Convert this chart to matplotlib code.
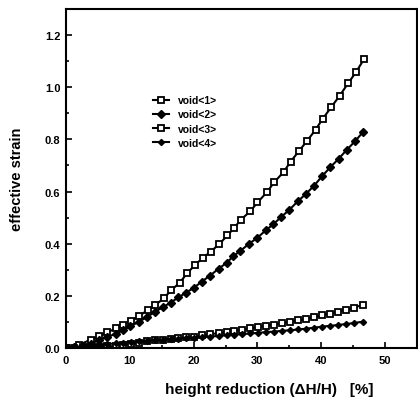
import matplotlib
matplotlib.use("Agg")
import matplotlib.pyplot as plt
from matplotlib.ticker import MultipleLocator

plt.rcParams['font.family'] = ['Liberation Sans', 'DejaVu Sans']
plt.rcParams['font.weight'] = 'bold'

# void<1>
x1 = [0, 2.0, 3.9, 5.2, 6.5, 7.8, 9.0, 10.2, 11.5, 12.8, 14.0, 15.3, 16.5, 17.8, 19.0,
      20.2, 21.4, 22.7, 24.0, 25.3, 26.4, 27.4, 28.9, 30.0, 31.5, 32.6, 34.1, 35.2,
      36.5, 37.8, 39.1, 40.2, 41.6, 42.9, 44.2, 45.5, 46.7]
y1 = [0, 0.012, 0.032, 0.046, 0.060, 0.075, 0.090, 0.105, 0.124, 0.145, 0.165, 0.190,
      0.222, 0.250, 0.287, 0.318, 0.345, 0.370, 0.398, 0.432, 0.462, 0.492, 0.525,
      0.558, 0.598, 0.635, 0.675, 0.715, 0.755, 0.795, 0.837, 0.878, 0.925, 0.968,
      1.015, 1.060, 1.108]

# void<2>
x2 = [0, 1.3, 2.6, 3.9, 5.2, 6.5, 7.8, 9.0, 10.1, 11.4, 12.7, 13.9, 15.2, 16.4, 17.6,
      18.8, 20.1, 21.3, 22.6, 23.9, 25.2, 26.2, 27.3, 28.7, 29.9, 31.3, 32.5, 33.7,
      35.0, 36.3, 37.6, 38.9, 40.1, 41.4, 42.7, 44.0, 45.3, 46.6]
y2 = [0, 0.003, 0.008, 0.017, 0.030, 0.042, 0.055, 0.068, 0.084, 0.100, 0.119, 0.138,
      0.157, 0.174, 0.194, 0.212, 0.232, 0.255, 0.278, 0.304, 0.327, 0.352, 0.372,
      0.400, 0.421, 0.451, 0.475, 0.502, 0.530, 0.562, 0.591, 0.623, 0.658, 0.693,
      0.725, 0.760, 0.793, 0.830]

# void<3> and void<4>
x34 = [0, 1.3, 2.6, 3.9, 5.2, 6.5, 7.8, 9.0, 10.2, 11.5, 12.7, 13.9, 15.2, 16.4, 17.6,
       18.8, 20.1, 21.3, 22.6, 23.9, 25.2, 26.4, 27.6, 28.9, 30.1, 31.4, 32.6, 33.9,
       35.1, 36.4, 37.6, 38.9, 40.1, 41.4, 42.6, 43.9, 45.2, 46.5]
y3 = [0, 0.001, 0.002, 0.003, 0.004, 0.006, 0.008, 0.011, 0.015, 0.020, 0.025, 0.029,
      0.032, 0.035, 0.037, 0.041, 0.044, 0.048, 0.053, 0.057, 0.061, 0.065, 0.070,
      0.075, 0.080, 0.085, 0.090, 0.096, 0.100, 0.106, 0.112, 0.118, 0.126, 0.132,
      0.139, 0.146, 0.155, 0.166]
y4 = [0, 0.003, 0.006, 0.009, 0.012, 0.015, 0.018, 0.021, 0.023, 0.025, 0.028, 0.030,
      0.032, 0.034, 0.036, 0.038, 0.040, 0.042, 0.044, 0.046, 0.049, 0.051, 0.053,
      0.056, 0.058, 0.061, 0.063, 0.066, 0.068, 0.071, 0.074, 0.078, 0.082, 0.085,
      0.088, 0.092, 0.096, 0.101]

labels = ['void<1>', 'void<2>', 'void<3>', 'void<4>']

fig = plt.figure(figsize=(4.18, 4.02), dpi=100)
ax = fig.add_axes([66/418, 53/402, (417-66)/418, (349-10)/402])

ax.plot(x1, y1, color='black', lw=1.5, marker='s', ms=4.5, mfc='white', mec='black', mew=1.3, label=labels[0])
ax.plot(x2, y2, color='black', lw=1.5, marker='D', ms=3.6, mfc='black', mec='black', label=labels[1])
ax.plot(x34, y3, color='black', lw=1.5, marker='s', ms=3.8, mfc='white', mec='black', mew=1.3, label=labels[2])
ax.plot(x34, y4, color='black', lw=1.5, marker='D', ms=3.1, mfc='black', mec='black', label=labels[3])

ax.set_xlim(0, 55)
ax.set_ylim(0, 1.3)
ax.xaxis.set_major_locator(MultipleLocator(10))
ax.xaxis.set_minor_locator(MultipleLocator(5))
ax.yaxis.set_major_locator(MultipleLocator(0.2))
ax.yaxis.set_minor_locator(MultipleLocator(0.1))
ax.set_yticks([0, 0.2, 0.4, 0.6, 0.8, 1.0, 1.2])
ax.set_yticklabels(['0.0', '0.2', '0.4', '0.6', '0.8', '1.0', '1.2'])
ax.tick_params(which='both', direction='in', top=False, right=False, labelsize=8, width=1.2)
ax.tick_params(axis='x', which='major', length=4, pad=5)
ax.tick_params(axis='y', which='major', length=4, pad=4)
ax.tick_params(which='minor', length=2.5)
for t in ax.get_xticklabels() + ax.get_yticklabels():
    t.set_fontweight('bold')
for s in ax.spines.values():
    s.set_linewidth(1.5)

ax.set_xlabel('height reduction (ΔH/H)   [%]', fontsize=11, fontweight='bold')
ax.xaxis.set_label_coords(0.58, -0.1)
ax.set_ylabel('effective strain', fontsize=10.5, fontweight='bold', labelpad=15)

leg = ax.legend(loc='upper left', bbox_to_anchor=(0.222, 0.773), frameon=False,
                handlelength=1.5, handletextpad=0.9, labelspacing=0.4,
                prop={'weight': 'bold', 'size': 7.5})

fig.savefig('out.png', dpi=100)
